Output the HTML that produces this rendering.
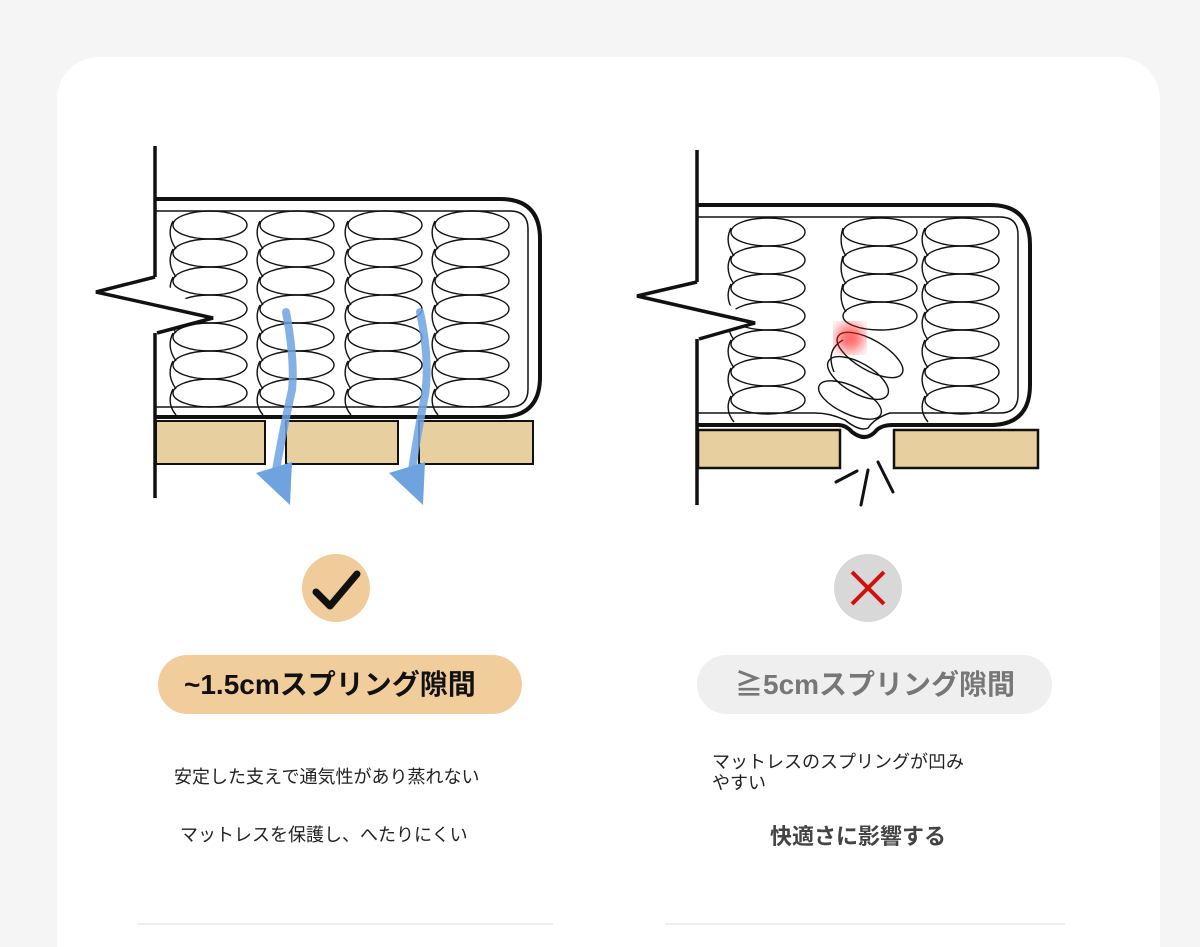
<!DOCTYPE html>
<html><head><meta charset="utf-8"><style>
html,body{margin:0;padding:0;background:#f5f5f5;width:1200px;height:947px;overflow:hidden;font-family:"Liberation Sans","Noto Sans CJK JP",sans-serif;position:relative}
.card{position:absolute;left:57px;top:57px;width:1103px;height:890px;background:#fff;border-radius:42px 42px 0 0}
svg{position:absolute;left:0;top:0}
.pill{position:absolute;height:59px;border-radius:30px;font-size:28px;font-weight:bold;line-height:59px;white-space:nowrap}
.t{position:absolute;font-size:18px;color:#222;white-space:nowrap}
</style></head><body>
<div class="card"></div>
<svg width="1200" height="947" viewBox="0 0 1200 947">
<defs>
<g id="col">
<ellipse cx="0" cy="0" rx="37" ry="14"/><ellipse cx="0" cy="28" rx="37" ry="14"/><ellipse cx="0" cy="56" rx="37" ry="14"/><ellipse cx="0" cy="84" rx="37" ry="14"/><ellipse cx="0" cy="112" rx="37" ry="14"/><ellipse cx="0" cy="140" rx="37" ry="14"/><ellipse cx="0" cy="168" rx="37" ry="14"/>
<path d="M-37,-4 Q-44,10 -34,24 M-37,24 Q-44,38 -34,52 M-37,52 Q-44,66 -34,80 M-37,80 Q-44,94 -34,108 M-37,108 Q-44,122 -34,136 M-37,136 Q-44,150 -34,164 M-37,164 Q-44,178 -34,190"/>
</g>
<filter id="bl"><feGaussianBlur stdDeviation="7"/></filter>
</defs>
<!-- LEFT -->
<g fill="none" stroke="#111">
<path d="M155,199 H500 Q540,199 540,239 V377 Q540,417 500,417 H155" stroke-width="4"/>
<path d="M155,211 H510 Q528,211 528,229 V389 Q528,407 510,407 H155" stroke-width="1.5"/>
<g stroke-width="1.4"><use href="#col" x="210" y="225"/><use href="#col" x="297" y="225"/><use href="#col" x="385" y="225"/><use href="#col" x="472" y="225"/></g>
<g fill="#e8cfa0" stroke-width="2"><rect x="156" y="421" width="109" height="43"/><rect x="286" y="421" width="112" height="43"/><rect x="419" y="421" width="114" height="43"/></g>
<polygon points="155,277 213,318 157,333" fill="#fff" stroke="none"/>
<line x1="155" y1="146" x2="155" y2="277" stroke-width="3.5"/>
<line x1="155" y1="333" x2="155" y2="498" stroke-width="3.5"/>
<path d="M155,277 L96,292 L213,318 L157,333" stroke-width="3.5"/>
</g>
<g fill="none" stroke="#6fa3e0" stroke-width="8" stroke-linecap="round">
<path d="M286,312 Q295,360 292,390 Q285,420 276,470" stroke-opacity="0.85"/>
<path d="M420,312 Q430,360 425,395 Q418,430 412,470" stroke-opacity="0.85"/>
</g>
<g fill="#6fa3e0"><polygon points="256,473 290,505 292,462"/><polygon points="389,473 423,505 425,462"/></g>
<!-- RIGHT -->
<g fill="none" stroke="#111">
<path d="M697,205 H990 Q1030,205 1030,245 V385 Q1030,425 990,425 H893 Q880,425 875,432 Q865,442 852,432 Q846,425 838,425 H697" stroke-width="4"/>
<path d="M697,217 H1000 Q1018,217 1018,235 V395 Q1018,413 1000,413 H890 Q875,418 868,428 Q860,432 845,420 Q830,413 815,413 H697" stroke-width="1.5"/>
<g stroke-width="1.4"><use href="#col" x="768" y="232"/><use href="#col" x="962" y="232"/>
<ellipse cx="880" cy="232" rx="37" ry="14"/><ellipse cx="880" cy="260" rx="37" ry="14"/><ellipse cx="880" cy="288" rx="37" ry="14"/><ellipse cx="880" cy="316" rx="37" ry="14"/>
<path d="M843,228 Q838,244 846,256 M843,256 Q838,272 846,284 M843,284 Q838,300 846,312"/>
<ellipse cx="870" cy="355" rx="37" ry="15" transform="rotate(30 870 355)"/>
<ellipse cx="858" cy="378" rx="34" ry="15" transform="rotate(30 858 378)"/>
<ellipse cx="850" cy="400" rx="34" ry="14" transform="rotate(25 850 400)"/>
<path d="M843,340 Q825,350 834,372"/>
</g>
<g fill="#e8cfa0" stroke-width="2.5"><rect x="698" y="430" width="142" height="38"/><rect x="894" y="430" width="144" height="38"/></g>
<polygon points="697,282 755,323 699,339" fill="#fff" stroke="none"/>
<line x1="697" y1="150" x2="697" y2="282" stroke-width="3.5"/>
<line x1="697" y1="339" x2="697" y2="505" stroke-width="3.5"/>
<path d="M697,282 L637,296 L755,323 L699,339" stroke-width="3.5"/>
<g stroke-width="3" stroke-linecap="round"><line x1="836" y1="482" x2="857" y2="471"/><line x1="868" y1="470" x2="861" y2="505"/><line x1="878" y1="462" x2="893" y2="492"/></g>
</g>
<circle cx="850" cy="338" r="14" fill="#ff2020" opacity="0.75" filter="url(#bl)"/>
<!-- icons -->
<circle cx="336" cy="588" r="34" fill="#f0cc9a"/>
<path d="M316,592 L330,606 L357,574" fill="none" stroke="#111" stroke-width="7" stroke-linecap="round" stroke-linejoin="round"/>
<circle cx="868" cy="588" r="34" fill="#d8d8d8"/>
<path d="M852,572 L884,604 M884,572 L852,604" stroke="#d01010" stroke-width="4"/>
<line x1="138" y1="924" x2="553" y2="924" stroke="#ddd"/>
<line x1="665" y1="924" x2="1065" y2="924" stroke="#ddd"/>
</svg>
<div class="pill" style="left:158px;top:655px;width:364px;background:#f2cd9c;color:#111;text-indent:26px">~1.5cmスプリング隙間</div>
<div class="pill" style="left:697px;top:655px;width:355px;background:#efefef;color:#777;text-indent:38px">≧5cmスプリング隙間</div>
<div class="t" style="left:174px;top:763px">安定した支えで通気性があり蒸れない</div>
<div class="t" style="left:180px;top:821px">マットレスを保護し、へたりにくい</div>
<div class="t" style="left:712px;top:752px;line-height:21px">マットレスのスプリングが凹み<br>やすい</div>
<div class="t" style="left:770px;top:819px;font-size:22px;font-weight:bold;color:#444">快適さに影響する</div>
</body></html>
